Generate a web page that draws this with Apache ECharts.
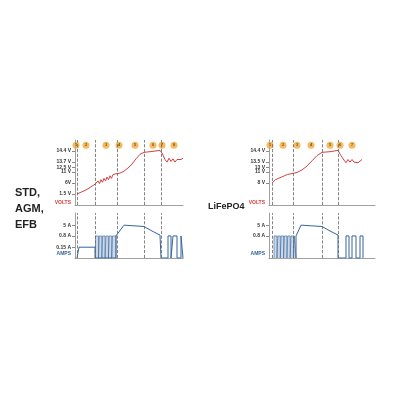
<!DOCTYPE html>
<html>
<head>
<meta charset="utf-8">
<script src="https://cdn.jsdelivr.net/npm/echarts@6/dist/echarts.min.js"></script>
<style>html,body{margin:0;background:#fff}#c{width:400px;height:400px}</style>
</head>
<body>
<div id="c"></div>
<script>
// 刻度位置（按图上的间距读取）
const leftVoltTicks = [[83, '14.4 V'], [66, '13.7 V'], [58, '12.5 V'], [51, '11 V'], [34, '6V'], [17, '1.5 V']];
const rightVoltTicks = [[83, '14.4 V'], [66, '13.5 V'], [58, '13 V'], [51, '11 V'], [34, '8 V']];
const leftAmpTicks = [[73, '5 A'], [49, '0.8 A'], [24, '0.15 A']];
const rightAmpTicks = [[73, '5 A'], [49, '0.8 A']];

const leftPhases = ['1', '2', '3', '4', '5', '6', '7', '8'];
const leftPhaseX = [76, 86, 106, 119, 135, 153, 162, 174];
const rightPhases = ['1', '2', '3', '4', '5', '6', '7'];
const rightPhaseX = [270, 283, 297, 311, 330, 340, 352];
const leftDash = [77, 95, 117, 144, 161];
const rightDash = [272, 293, 322, 338];

const leftVolt = [[77,17],[79,17],[83,21],[85,22],[87,24],[89,26],[91,28],[93,30],[95,32],[97,32],[98,37],[99.5,33],[101,39],[102.5,35],[104,41],[105.5,37],[107,43],[108.5,39],[110,45],[111.5,41],[113,47],[114.5,44],[116,48],[120,49],[124,52],[128,57],[132,63],[136,71],[140,78],[144,81],[150,82],[155,83],[160,84],[162,80],[165,70],[167,66],[169,72],[171,67],[173,71],[175,66],[177,70],[179,67],[181,70],[183,72]];
const leftAmp = [[77,0],[79,0],[79,24],[95,24],[95,0],[116,0],[116,49],[118,49],[124,73],[144,70],[152,60],[160,51],[161,51],[161,0],[168,0],[168,49],[171,49],[171,0],[173,0],[173,49],[177,49],[177,0],[181,0],[181,49],[183,49],[183,0]];
const leftPulse = [[95.5,0],[95.5,49],[98.5,49],[98.5,0],[99.3,0],[99.3,49],[101.8,49],[101.8,0],[102.6,0],[102.6,49],[105.1,49],[105.1,0],[105.9,0],[105.9,49],[108.4,49],[108.4,0],[109.2,0],[109.2,49],[111.7,49],[111.7,0],[112.5,0],[112.5,49],[116,49],[116,0]];

const rightVolt = [[272,34],[274,35],[275.5,39],[277,36],[278.5,41],[280,38],[281.5,43],[283,40],[284.5,45],[286,42],[287.5,47],[289,44],[291,48],[293,49],[297,50],[302,54],[307,60],[312,68],[317,76],[322,81],[330,82],[338,84],[341,76],[344,69],[346,65],[348,70],[350,66],[352,70],[354,66],[356,69],[358,65],[360,68],[362,70]];
const rightAmp = [[296,0],[296,49],[301,73],[322,70],[330,60],[338,51],[338,0],[346,0],[346,49],[349,49],[349,0],[352,0],[352,49],[356,49],[356,0],[360,0],[360,49],[363,49],[363,0]];
const rightPulse = [[274,0],[274,49],[277,49],[277,0],[277.8,0],[277.8,49],[280.3,49],[280.3,0],[281.1,0],[281.1,49],[283.6,49],[283.6,0],[284.4,0],[284.4,49],[286.9,49],[286.9,0],[287.7,0],[287.7,49],[290.2,49],[290.2,0],[291,0],[291,49],[293.5,49],[293.5,0],[294.3,0],[294.3,49],[296,49],[296,0]];

const red = '#d2403f', blue = '#35659c', dark = '#333';

function yAx(idx, ticks, unit) {
    const vals = ticks.map(t => t[0]).concat([unit === 'VOLTS' ? 3 : 9]);
    return {
        gridIndex: idx, type: 'value', min: 0, max: 100,
        splitLine: { show: false },
        axisLine: { show: true, lineStyle: { color: '#888', width: 0.8 } },
        axisTick: { show: true, customValues: ticks.map(t => t[0]), length: 3, lineStyle: { color: '#888' } },
        axisLabel: {
            customValues: vals, fontSize: 5, fontWeight: 'bold', color: dark, margin: 4,
            fontFamily: 'Liberation Sans Narrow, Liberation Sans',
            formatter: v => {
                const t = ticks.find(k => k[0] === v);
                return t ? t[1] : '{u|' + unit + '}';
            },
            rich: { u: { fontSize: 5, fontWeight: 'bold', color: unit === 'VOLTS' ? red : blue } }
        }
    };
}
function xAx(idx, min, max) {
    return {
        gridIndex: idx, type: 'value', min, max,
        splitLine: { show: false }, axisTick: { show: false }, axisLabel: { show: false },
        axisLine: { show: true, onZero: false, lineStyle: { color: '#888', width: 0.8 } }
    };
}
function dashes(xs) {
    return {
        silent: true, symbol: 'none', label: { show: false },
        lineStyle: { type: 'dashed', color: '#666', width: 0.8 },
        data: xs.map(x => ({ xAxis: x }))
    };
}
function line(idx, data, color, extra) {
    return Object.assign({
        type: 'line', xAxisIndex: idx, yAxisIndex: idx, data, symbol: 'none',
        lineStyle: { color, width: 1 }, silent: true
    }, extra || {});
}
function phases(idx, xs, names) {
    return {
        type: 'scatter', xAxisIndex: idx, yAxisIndex: idx, symbolSize: 7, silent: true,
        itemStyle: { color: '#f2a93b' },
        label: { show: true, position: 'inside', fontSize: 4, fontWeight: 'bold', color: '#5a3a00', formatter: p => names[p.dataIndex] },
        data: xs.map(x => [x, 92])
    };
}

const myChart = echarts.init(document.getElementById('c'));
myChart.setOption({
    animation: false,
    grid: [
        { left: 75, top: 140, width: 108, height: 65 },
        { left: 75, top: 213, width: 108, height: 45 },
        { left: 269, top: 140, width: 106, height: 65 },
        { left: 269, top: 213, width: 106, height: 45 }
    ],
    xAxis: [xAx(0, 75, 183), xAx(1, 75, 183), xAx(2, 269, 375), xAx(3, 269, 375)],
    yAxis: [yAx(0, leftVoltTicks, 'VOLTS'), yAx(1, leftAmpTicks, 'AMPS'), yAx(2, rightVoltTicks, 'VOLTS'), yAx(3, rightAmpTicks, 'AMPS')],
    title: [
        { text: 'STD,\nAGM,\nEFB', left: 10, top: 180, textStyle: { fontSize: 11, fontWeight: 'bold', color: '#222', lineHeight: 16, fontFamily: 'Liberation Sans Narrow, Liberation Sans' } },
        { text: 'LiFePO4', left: 203, top: 197, textStyle: { fontSize: 9, fontWeight: 'bold', color: '#222', fontFamily: 'Liberation Sans Narrow, Liberation Sans' } }
    ],
    series: [
        line(0, leftVolt, red, { markLine: dashes(leftDash) }),
        line(1, leftPulse, blue, { lineStyle: { color: blue, width: 0.6 }, areaStyle: { color: '#b6c8de' } }),
        line(1, leftAmp, blue, { markLine: dashes(leftDash) }),
        phases(0, leftPhaseX, leftPhases),
        line(2, rightVolt, red, { markLine: dashes(rightDash) }),
        line(3, rightPulse, blue, { lineStyle: { color: blue, width: 0.6 }, areaStyle: { color: '#b6c8de' } }),
        line(3, rightAmp, blue, { markLine: dashes(rightDash) }),
        phases(2, rightPhaseX, rightPhases)
    ]
});
</script>
</body>
</html>
